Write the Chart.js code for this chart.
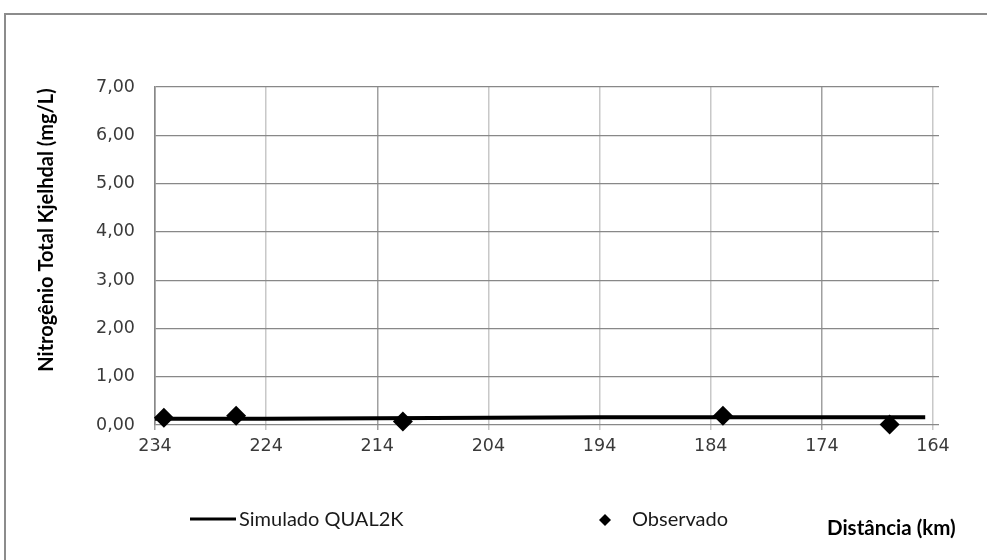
<!DOCTYPE html>
<html>
<head>
<meta charset="utf-8">
<script src="https://cdn.jsdelivr.net/npm/chart.js@4/dist/chart.umd.min.js"></script>
<style>
  html, body { margin: 0; padding: 0; background: #fff; }
  #wrap { width: 987px; height: 560px; position: relative; }
</style>
</head>
<body>
<div id="wrap"><canvas id="c" width="987" height="560"></canvas></div>
<script>
// Distance along the river (km) and total Kjeldahl nitrogen (mg/L)
const simDistance = [234, 224, 214, 204, 194, 184, 174, 164.7];
const simValues   = [0.13, 0.13, 0.14, 0.15, 0.16, 0.16, 0.16, 0.16];

const obsDistance = [233.2, 226.7, 211.7, 182.9, 167.9];
const obsValues   = [0.15, 0.19, 0.07, 0.19, 0.01];

const xTicks = [234, 224, 214, 204, 194, 184, 174, 164];
const yTicks = [0, 1, 2, 3, 4, 5, 6, 7];

const simLabel = 'Simulado QUAL2K';
const obsLabel = 'Observado';
const xTitle = 'Distância (km)';
const yTitle = 'Nitrogênio Total Kjelhdal (mg/L)';

const toPoints = (xs, ys) => xs.map((x, i) => ({ x: x, y: ys[i] }));

// Darker vertical gridlines at a couple of distances
const darkX = [214, 174, 234];

const decorations = {
  id: 'decorations',
  beforeDraw(chart) {
    const ctx = chart.ctx;
    ctx.save();
    ctx.fillStyle = '#ffffff';
    ctx.fillRect(0, 0, chart.width, chart.height);
    // frame of the chart object
    ctx.strokeStyle = '#8c8c8c';
    ctx.lineWidth = 2;
    ctx.beginPath();
    ctx.moveTo(5, chart.height);
    ctx.lineTo(5, 14);
    ctx.lineTo(chart.width, 14);
    ctx.stroke();
    ctx.restore();
  },
  afterDraw(chart) {
    const ctx = chart.ctx;
    ctx.save();
    ctx.fillStyle = '#000';
    // y axis title
    ctx.font = 'bold 20px Lato, "Open Sans", sans-serif';
    ctx.textAlign = 'center';
    ctx.textBaseline = 'middle';
    ctx.translate(47, 230);
    ctx.rotate(-Math.PI / 2);
    ctx.fillText(yTitle, 0, 0);
    ctx.restore();

    ctx.save();
    // legend: line sample
    ctx.strokeStyle = '#000';
    ctx.lineWidth = 3;
    ctx.beginPath();
    ctx.moveTo(190, 519);
    ctx.lineTo(236, 519);
    ctx.stroke();
    ctx.fillStyle = '#1a1a1a';
    ctx.font = '20px Lato, "Open Sans", sans-serif';
    ctx.textAlign = 'left';
    ctx.textBaseline = 'middle';
    ctx.fillText(simLabel, 239, 520);
    // legend: diamond marker
    ctx.fillStyle = '#000';
    ctx.beginPath();
    ctx.moveTo(605, 514);
    ctx.lineTo(611, 520);
    ctx.lineTo(605, 526);
    ctx.lineTo(599, 520);
    ctx.closePath();
    ctx.fill();
    ctx.fillStyle = '#1a1a1a';
    ctx.fillText(obsLabel, 632, 520);
    // x axis title
    ctx.fillStyle = '#000';
    ctx.font = 'bold 20.5px Lato, "Open Sans", sans-serif';
    ctx.fillText(xTitle, 827, 528);
    ctx.restore();
  }
};

new Chart(document.getElementById('c'), {
  data: {
    datasets: [
      {
        type: 'line',
        label: simLabel,
        data: toPoints(simDistance, simValues),
        borderColor: '#000',
        borderWidth: 4,
        pointRadius: 0,
        tension: 0,
        fill: false,
        clip: false,
        order: 2
      },
      {
        type: 'scatter',
        label: obsLabel,
        data: toPoints(obsDistance, obsValues),
        pointStyle: 'rectRot',
        pointRadius: 10,
        pointBackgroundColor: '#000',
        pointBorderColor: '#000',
        pointBorderWidth: 0,
        clip: false,
        order: 1
      }
    ]
  },
  options: {
    responsive: false,
    animation: false,
    events: [],
    layout: { padding: { left: 0, top: 87, right: 48, bottom: 0 } },
    plugins: { legend: { display: false }, tooltip: { enabled: false }, title: { display: false } },
    scales: {
      x: {
        type: 'linear',
        reverse: true,
        min: 163.46,
        max: 234,
        afterBuildTicks(scale) { scale.ticks = xTicks.map(v => ({ value: v })); },
        afterFit(scale) { scale.height = 135; },
        border: { display: false },
        grid: {
          color: ctx => (ctx.tick && darkX.includes(ctx.tick.value)) ? '#a0a0a0' : '#c8c8c8',
          lineWidth: 1.5,
          drawTicks: true,
          tickLength: 5
        },
        ticks: {
          padding: 6,
          maxRotation: 0,
          autoSkip: false,
          color: '#3a3a3a',
          font: { family: 'DejaVu Sans', size: 17.5 },
          callback: v => String(v)
        }
      },
      y: {
        min: 0,
        max: 7,
        afterBuildTicks(scale) { scale.ticks = yTicks.map(v => ({ value: v })); },
        afterFit(scale) { scale.width = 155; },
        border: { display: true, color: '#888888', width: 1.5 },
        grid: { color: '#888888', lineWidth: 1.2, drawTicks: false },
        ticks: {
          padding: 20,
          color: '#3a3a3a',
          font: { family: 'DejaVu Sans', size: 17.5 },
          callback: v => v.toFixed(2).replace('.', ',')
        }
      }
    }
  },
  plugins: [decorations]
});
</script>
</body>
</html>
